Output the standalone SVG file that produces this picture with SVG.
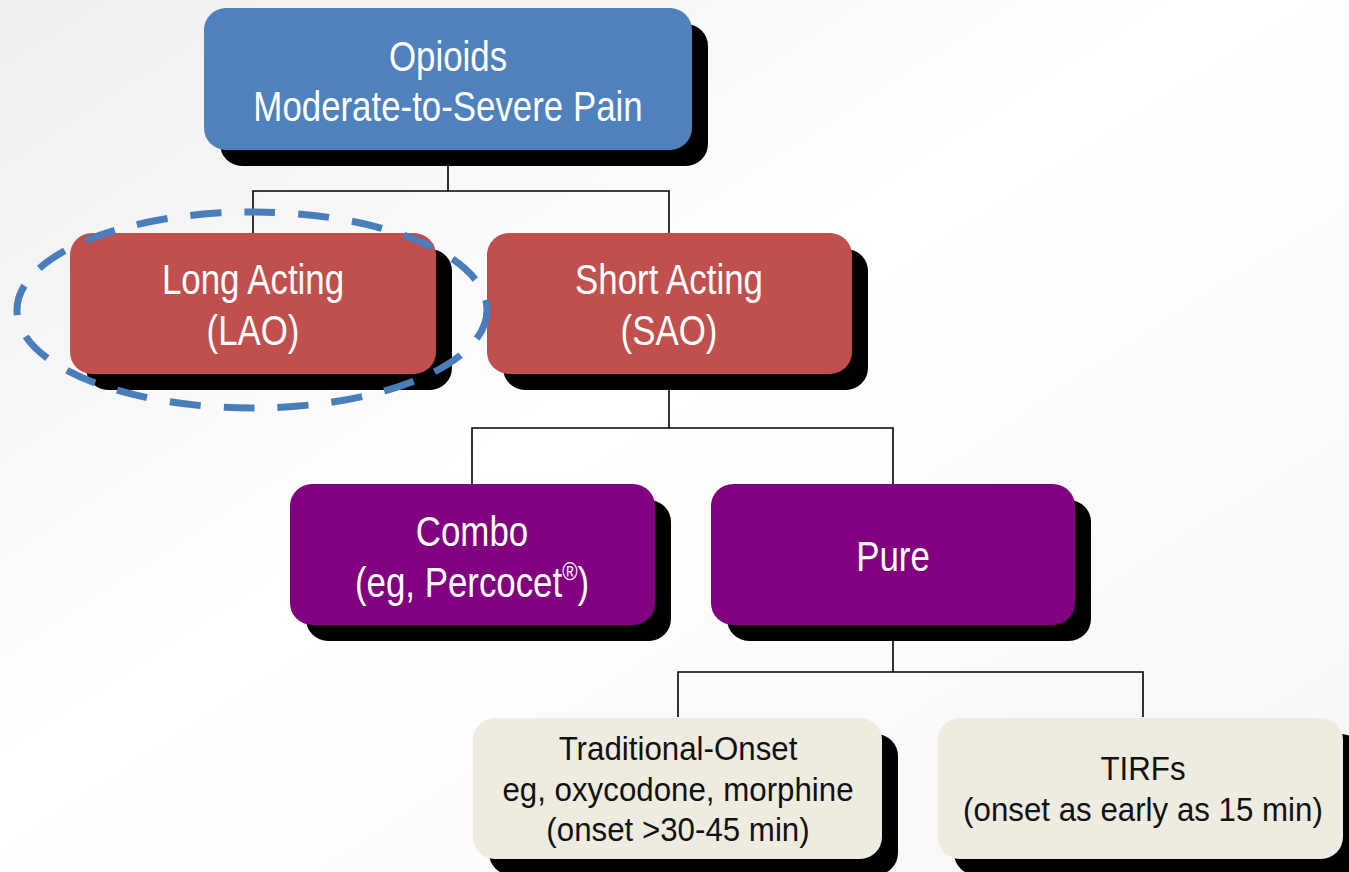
<svg xmlns="http://www.w3.org/2000/svg" width="1349" height="872" viewBox="0 0 1349 872">
  <defs>
    <linearGradient id="bg" x1="0" y1="0" x2="1" y2="1">
      <stop offset="0" stop-color="#eeeeee"/>
      <stop offset="0.45" stop-color="#ffffff"/>
      <stop offset="1" stop-color="#f6f6f6"/>
    </linearGradient>
  </defs>
  <style>
    .shadow { fill: #000000; }
    .blue { fill: #4f81bd; }
    .red { fill: #c0504d; }
    .purple { fill: #800080; }
    .beige { fill: #eeebe0; }
    .wt { fill: #ffffff; font-family: "Liberation Sans", Arial, sans-serif; font-size: 42px; text-anchor: middle; }
    .dk { fill: #111111; font-family: "Liberation Sans", Arial, sans-serif; font-size: 34px; text-anchor: middle; }
    .conn { fill: none; stroke: #000000; stroke-width: 1.6; }
  </style>
  <rect x="0" y="0" width="1349" height="872" fill="url(#bg)"/>

  <g id="connectors">
    <path class="conn" d="M448 150 V191 M253 233 V191 H669 V233"/>
    <path class="conn" d="M669 374 V428 M472 484 V428 H893 V484"/>
    <path class="conn" d="M893 625 V672 M678 717 V672 H1143 V717"/>
  </g>

  <g id="node-opioids">
    <rect class="shadow" x="220" y="24" width="488" height="142" rx="22"/>
    <rect class="blue" x="204" y="8" width="488" height="142" rx="22"/>
    <g transform="translate(448,0) scale(0.83,1)">
      <text class="wt" x="0" y="71">Opioids</text>
      <text class="wt" x="0" y="121">Moderate-to-Severe Pain</text>
    </g>
  </g>

  <g id="node-lao">
    <rect class="shadow" x="86" y="249" width="366" height="141" rx="22"/>
    <rect class="red" x="70" y="233" width="366" height="141" rx="22"/>
    <g transform="translate(253,0) scale(0.83,1)">
      <text class="wt" x="0" y="294">Long Acting</text>
      <text class="wt" x="0" y="345">(LAO)</text>
    </g>
  </g>

  <g id="node-sao">
    <rect class="shadow" x="503" y="249" width="365" height="141" rx="22"/>
    <rect class="red" x="487" y="233" width="365" height="141" rx="22"/>
    <g transform="translate(669,0) scale(0.83,1)">
      <text class="wt" x="0" y="294">Short Acting</text>
      <text class="wt" x="0" y="345">(SAO)</text>
    </g>
  </g>

  <g id="highlight-lao">
    <ellipse cx="252" cy="310" rx="235" ry="98" fill="none" stroke="#4a7ebb" stroke-width="7" stroke-dasharray="31 23"/>
  </g>

  <g id="node-combo">
    <rect class="shadow" x="306" y="500" width="365" height="141" rx="22"/>
    <rect class="purple" x="290" y="484" width="365" height="141" rx="22"/>
    <g transform="translate(472,0) scale(0.83,1)">
      <text class="wt" x="0" y="546">Combo</text>
      <text class="wt" x="0" y="597">(eg, Percocet<tspan font-size="25" dy="-17">®</tspan><tspan dy="17">)</tspan></text>
    </g>
  </g>

  <g id="node-pure">
    <rect class="shadow" x="727" y="500" width="364" height="141" rx="22"/>
    <rect class="purple" x="711" y="484" width="364" height="141" rx="22"/>
    <g transform="translate(893,0) scale(0.83,1)">
      <text class="wt" x="0" y="571">Pure</text>
    </g>
  </g>

  <g id="node-traditional">
    <rect class="shadow" x="489" y="734" width="409" height="141" rx="22"/>
    <rect class="beige" x="473" y="718" width="409" height="141" rx="22"/>
    <g transform="translate(678,0) scale(0.92,1)">
      <text class="dk" x="0" y="760">Traditional-Onset</text>
      <text class="dk" x="0" y="801">eg, oxycodone, morphine</text>
      <text class="dk" x="0" y="841">(onset &gt;30-45 min)</text>
    </g>
  </g>

  <g id="node-tirfs">
    <rect class="shadow" x="954" y="734" width="409" height="141" rx="22"/>
    <rect class="beige" x="938" y="718" width="405" height="141" rx="22"/>
    <g transform="translate(1143,0) scale(0.92,1)">
      <text class="dk" x="0" y="780">TIRFs</text>
      <text class="dk" x="0" y="821">(onset as early as 15 min)</text>
    </g>
  </g>
</svg>
